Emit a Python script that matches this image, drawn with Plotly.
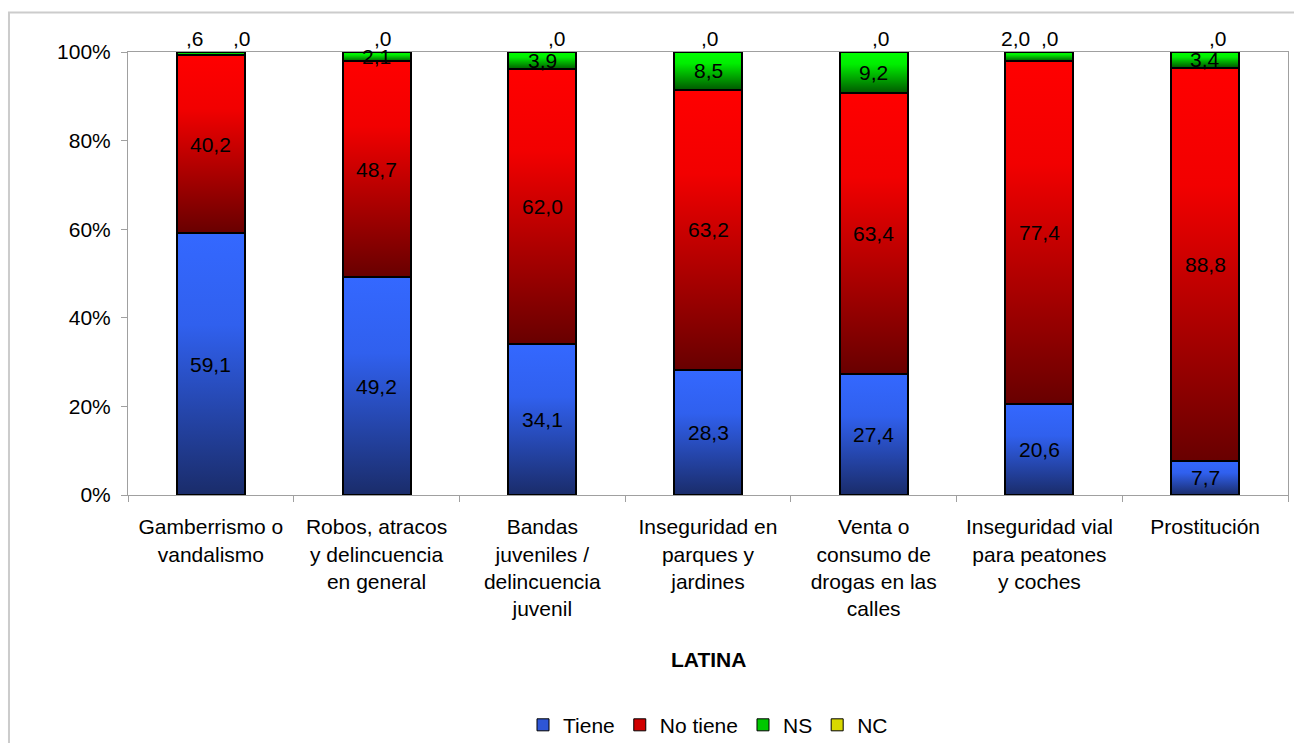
import base64
import plotly.graph_objects as go

# ---------------- data ----------------
categories = [
    "Gamberrismo o<br>vandalismo",
    "Robos, atracos<br>y delincuencia<br>en general",
    "Bandas<br>juveniles /<br>delincuencia<br>juvenil",
    "Inseguridad en<br>parques y<br>jardines",
    "Venta o<br>consumo de<br>drogas en las<br>calles",
    "Inseguridad vial<br>para peatones<br>y coches",
    "Prostitución",
]
tiene = [59.1, 49.2, 34.1, 28.3, 27.4, 20.6, 7.7]
no_tiene = [40.2, 48.7, 62.0, 63.2, 63.4, 77.4, 88.8]
ns = [0.6, 2.1, 3.9, 8.5, 9.2, 2.0, 3.4]
nc = [0.0, 0.0, 0.0, 0.0, 0.0, 0.0, 0.0]
y_tick_values = [0, 20, 40, 60, 80, 100]
y_tick_labels = ["0%", "20%", "40%", "60%", "80%", "100%"]
axis_title = "LATINA"

# ---------------- styles ----------------
FONT = "Liberation Sans, Arial, sans-serif"
FS = 21
BAR_W = 0.41
series = [
    ("Tiene", tiene, [(0, "#3468FF"), (0.35, "#3060EE"), (1, "#1A2C6A")], "#2E56D6"),
    ("No tiene", no_tiene, [(0, "#FF0000"), (0.3, "#F20000"), (1, "#680000")], "#D00000"),
    ("NS", ns, [(0, "#00FF00"), (0.3, "#00EE00"), (1, "#005A00")], "#00C800"),
    ("NC", nc, [(0, "#FFFF00"), (0.3, "#EEEE00"), (1, "#6A6A00")], "#D8D800"),
]
# label placement styles for small segments (pixel shifts)
ns_above = {0: -16, 5: -24}          # NS labels drawn above the bar
nc_shift = [31, 6, 15, 2, 7, 11, 13]  # NC labels drawn above the bar


def grad_uri(stops):
    st = "".join(f'<stop offset="{o}" stop-color="{c}"/>' for o, c in stops)
    svg = ('<svg xmlns="http://www.w3.org/2000/svg" width="10" height="100" '
           'viewBox="0 0 10 100" preserveAspectRatio="none"><defs>'
           f'<linearGradient id="g" x1="0" y1="0" x2="0" y2="1">{st}</linearGradient>'
           '</defs><rect x="0" y="0" width="10" height="100" fill="url(#g)"/></svg>')
    return "data:image/svg+xml;base64," + base64.b64encode(svg.encode()).decode()


def fmt(v):
    s = f"{v:.1f}".replace(".", ",")
    if s.startswith("0,"):
        s = s[1:]
    return s


x = list(range(len(categories)))
fig = go.Figure()
images = []
annotations = []
base = [0.0] * len(x)

for si, (name, vals, stops, solid) in enumerate(series):
    fig.add_trace(go.Bar(
        x=x, y=vals, width=BAR_W, name=name, showlegend=False,
        marker=dict(color="rgba(0,0,0,0)", line=dict(color="black", width=2)),
        hovertemplate=name + ": %{y}<extra></extra>",
    ))
    fig.add_trace(go.Bar(
        x=[None], y=[None], name=name, showlegend=True,
        marker=dict(color=solid, line=dict(color="black", width=1)),
    ))
    uri = grad_uri(stops)
    for i, v in enumerate(vals):
        b = base[i]
        top = b + v
        if v > 0:
            images.append(dict(source=uri, xref="x", yref="y", x=i - BAR_W / 2, y=top,
                               sizex=BAR_W, sizey=v, xanchor="left", yanchor="top",
                               sizing="stretch", layer="below"))
        if name == "NC":
            annotations.append(dict(x=i, y=top, xref="x", yref="y", text=fmt(v),
                                    showarrow=False, yanchor="bottom",
                                    xshift=nc_shift[i], font=dict(size=FS, color="black")))
        elif name == "NS" and i in ns_above:
            annotations.append(dict(x=i, y=top, xref="x", yref="y", text=fmt(v),
                                    showarrow=False, yanchor="bottom",
                                    xshift=ns_above[i], font=dict(size=FS, color="black")))
        else:
            annotations.append(dict(x=i, y=b + v / 2, xref="x", yref="y", text=fmt(v),
                                    showarrow=False, yanchor="middle",
                                    font=dict(size=FS, color="black")))
        base[i] = top

annotations.append(dict(x=0.5, y=-0.372, xref="paper", yref="paper", text="<b>" + axis_title + "</b>",
                        showarrow=False, yanchor="middle", font=dict(size=FS, color="black")))

fig.update_layout(
    width=1294, height=743,
    margin=dict(l=128, r=6, t=52, b=248, autoexpand=False),
    barmode="stack",
    paper_bgcolor="white", plot_bgcolor="white",
    font=dict(family=FONT, size=FS, color="black"),
    images=images,
    annotations=annotations,
    shapes=[dict(type="rect", xref="paper", yref="paper",
                 x0=-0.1026, x1=1.03, y0=-0.7, y1=1.0892,
                 line=dict(color="#CCCCCC", width=2), fillcolor="rgba(0,0,0,0)", layer="below")],
    legend=dict(orientation="h", x=0.5, xanchor="center", yref="container", y=0.024,
                yanchor="middle", font=dict(size=FS, color="black"), itemwidth=30,
                traceorder="normal", bgcolor="rgba(0,0,0,0)"),
    showlegend=True,
)
fig.update_xaxes(
    range=[-0.5, len(x) - 0.5], tickmode="array", tickvals=x, ticktext=categories,
    ticks="", showline=True, linecolor="#A0A0A0", linewidth=1, mirror=True,
    showgrid=False, zeroline=False, tickfont=dict(size=FS, color="black"),
    ticklabelstandoff=13, automargin=False,
    minor=dict(tickmode="linear", tick0=-0.5, dtick=1, ticks="outside", ticklen=6,
               tickcolor="#A0A0A0", showgrid=False),
)
fig.update_yaxes(
    range=[0, 100], tickmode="array", tickvals=y_tick_values, ticktext=y_tick_labels,
    ticks="outside", ticklen=6, tickcolor="#A0A0A0", showline=True, linecolor="#A0A0A0",
    linewidth=1, mirror=True, showgrid=False, zeroline=False,
    tickfont=dict(size=FS, color="black"), ticklabelstandoff=6, automargin=False,
)

fig.write_html("out.html", config={"displayModeBar": False},
               post_script="document.body.style.margin='0';document.body.style.overflow='hidden';")
